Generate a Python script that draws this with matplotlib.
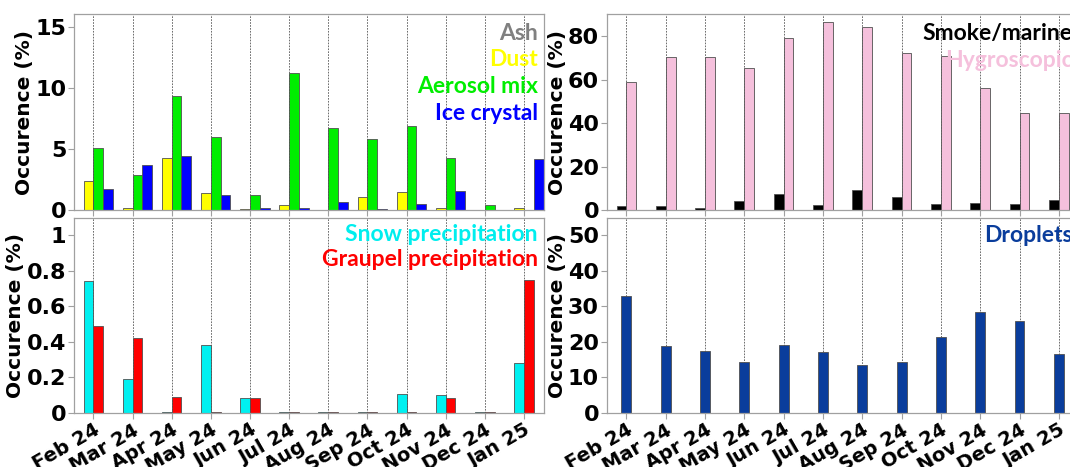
import matplotlib
matplotlib.use("Agg")
import numpy as np
import matplotlib.pyplot as plt

# Months
months = ["Feb 24", "Mar 24", "Apr 24", "May 24", "Jun 24", "Jul 24",
          "Aug 24", "Sep 24", "Oct 24", "Nov 24", "Dec 24", "Jan 25"]

# Top left: aerosol classes (%)
ash = [0, 0, 0, 0, 0, 0, 0, 0, 0, 0, 0, 0]
dust = [2.4, 0.2, 4.3, 1.4, 0.1, 0.4, 0.0, 1.05, 1.45, 0.15, 0.0, 0.15]
aerosol_mix = [5.1, 2.9, 9.3, 6.0, 1.25, 11.2, 6.7, 5.85, 6.85, 4.3, 0.45, 0.0]
ice_crystal = [1.75, 3.7, 4.4, 1.2, 0.2, 0.2, 0.7, 0.1, 0.5, 1.6, 0.0, 4.2]

# Top right
smoke_marine = [2.0, 2.0, 1.2, 4.2, 7.5, 2.3, 9.2, 6.2, 2.6, 3.4, 2.6, 4.6]
hygroscopic = [58.9, 70.3, 70.3, 65.4, 79.4, 86.6, 84.2, 72.5, 71.1, 56.3, 44.6, 44.9]

# Bottom left: precipitation
snow = [0.742, 0.19, 0.003, 0.383, 0.081, 0.002, 0.002, 0.002, 0.108, 0.098, 0.002, 0.28]
graupel = [0.489, 0.42, 0.089, 0.003, 0.081, 0.002, 0.002, 0.002, 0.002, 0.085, 0.002, 0.75]

# Bottom right
droplets = [32.8, 18.8, 17.4, 14.4, 19.0, 17.0, 13.6, 14.4, 21.5, 28.5, 26.0, 16.5]

x = np.arange(len(months))
w = 0.25
EDGE = "#505050"
SPINE = "#a0a0a0"
LBL_FONT = "Lato"

fig = plt.figure(figsize=(10.7, 4.67), dpi=100)
ax_tl = fig.add_axes([0.069, 0.550, 0.439, 0.419])
ax_bl = fig.add_axes([0.069, 0.116, 0.439, 0.418])
ax_tr = fig.add_axes([0.567, 0.550, 0.441, 0.419])
ax_br = fig.add_axes([0.567, 0.116, 0.441, 0.418])


def style(ax, ylim, yticks, yticklabels, show_x):
    ax.set_xlim(-0.5, 11.5)
    ax.set_ylim(*ylim)
    ax.set_yticks(yticks)
    ax.set_yticklabels(yticklabels, fontsize=16, fontweight="bold")
    ax.set_xticks(x)
    if show_x:
        ax.set_xticklabels(months, rotation=30, ha="right", rotation_mode="anchor",
                           fontsize=14, fontweight="bold")
    else:
        ax.set_xticklabels([])
        ax.tick_params(axis="x", length=0)
    for s in ax.spines.values():
        s.set_color(SPINE)
        s.set_linewidth(0.9)
    ax.tick_params(axis="both", colors=SPINE, labelcolor="black", width=0.8, length=4, pad=1.5)
    ax.xaxis.grid(True, linestyle=(0, (2, 1.5)), color="#555555", linewidth=0.6)
    ax.set_axisbelow(True)
    ax.set_ylabel("Occurence (%)", fontsize=14.5, fontweight="bold", labelpad=1)


def label(ax, y, txt, color):
    ax.text(0.988, y, txt, transform=ax.transAxes, ha="right", va="center",
            fontsize=16.5, fontweight="bold", color=color, family=LBL_FONT)


# Top left
ax_tl.bar(x - 1.5 * w, ash, w, color="#808080", edgecolor=EDGE, linewidth=0.6)
ax_tl.bar(x - 0.5 * w, dust, w, color="#ffff00", edgecolor=EDGE, linewidth=0.6)
ax_tl.bar(x + 0.5 * w, aerosol_mix, w, color="#00ee00", edgecolor=EDGE, linewidth=0.6)
ax_tl.bar(x + 1.5 * w, ice_crystal, w, color="#0000ff", edgecolor=EDGE, linewidth=0.6)
style(ax_tl, (0, 16), [0, 5, 10, 15], ["0", "5", "10", "15"], False)
label(ax_tl, 0.905, "Ash", "#808080")
label(ax_tl, 0.770, "Dust", "#ffff00")
label(ax_tl, 0.633, "Aerosol mix", "#00ee00")
label(ax_tl, 0.496, "Ice crystal", "#0000ff")

# Top right
ax_tr.bar(x - 0.5 * w, smoke_marine, w, color="black", edgecolor=EDGE, linewidth=0.6)
ax_tr.bar(x + 0.5 * w, hygroscopic, w, color="#f5c0dc", edgecolor=EDGE, linewidth=0.6)
style(ax_tr, (0, 90), [0, 20, 40, 60, 80], ["0", "20", "40", "60", "80"], False)
label(ax_tr, 0.905, "Smoke/marine", "black")
label(ax_tr, 0.765, "Hygroscopic", "#f5c0dc")

# Bottom left
ax_bl.bar(x - 0.5 * w, snow, w, color="#00f0f0", edgecolor=EDGE, linewidth=0.6)
ax_bl.bar(x + 0.5 * w, graupel, w, color="#ff0000", edgecolor=EDGE, linewidth=0.6)
style(ax_bl, (0, 1.1), [0, 0.2, 0.4, 0.6, 0.8, 1.0],
      ["0", "0.2", "0.4", "0.6", "0.8", "1"], True)
label(ax_bl, 0.916, "Snow precipitation", "#00eeee")
label(ax_bl, 0.783, "Graupel precipitation", "#ff0000")

# Bottom right
ax_br.bar(x, droplets, w, color="#0a3d9c", edgecolor=EDGE, linewidth=0.6)
style(ax_br, (0, 55), [0, 10, 20, 30, 40, 50], ["0", "10", "20", "30", "40", "50"], True)
label(ax_br, 0.91, "Droplets", "#0a3d9c")

fig.savefig("out.png", dpi=100)
